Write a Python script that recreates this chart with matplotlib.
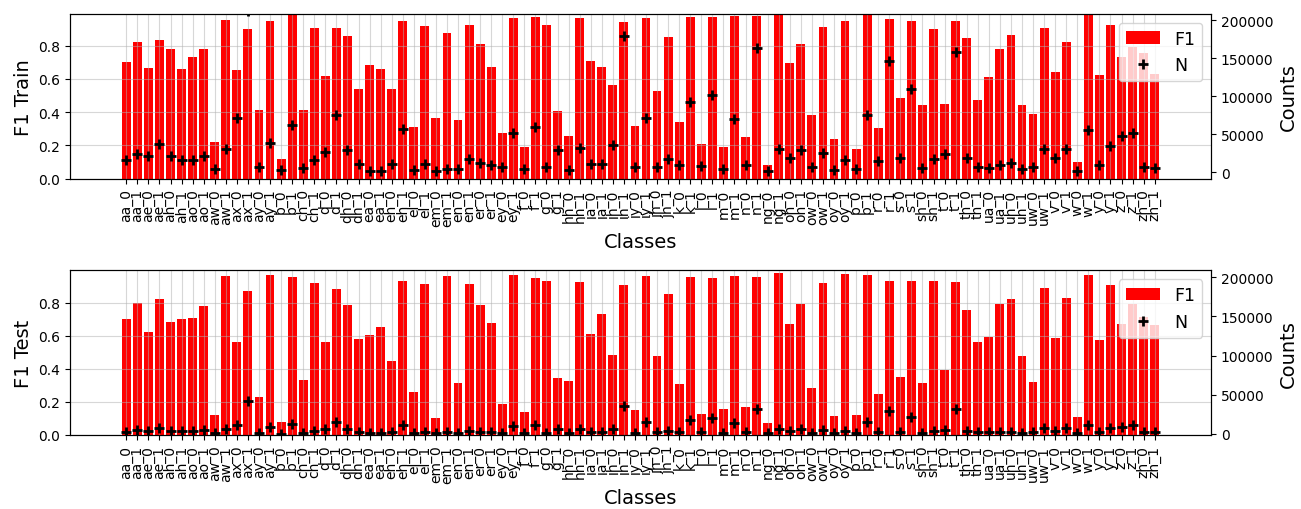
import numpy as np
import matplotlib.pyplot as plt

# phoneme classes, each split into _0 / _1
phones = ['aa', 'ae', 'ah', 'ao', 'aw', 'ax', 'ay', 'b', 'ch', 'd', 'dh', 'ea',
          'eh', 'el', 'em', 'en', 'er', 'ey', 'f', 'g', 'hh', 'ia', 'ih', 'iy',
          'jh', 'k', 'l', 'm', 'n', 'ng', 'oh', 'ow', 'oy', 'p', 'r', 's', 'sh',
          't', 'th', 'ua', 'uh', 'uw', 'v', 'w', 'y', 'z', 'zh']
classes = [p + s for p in phones for s in ('_0', '_1')]

f1_train = [0.704, 0.823, 0.666, 0.835, 0.780, 0.660, 0.732, 0.780, 0.219, 0.955,
            0.654, 0.901, 0.412, 0.949, 0.117, 1.000, 0.412, 0.907, 0.617, 0.907,
            0.859, 0.539, 0.684, 0.660, 0.539, 0.951, 0.312, 0.921, 0.366, 0.879,
            0.354, 0.925, 0.812, 0.674, 0.276, 0.967, 0.191, 0.973, 0.925, 0.406,
            0.257, 0.967, 0.708, 0.672, 0.563, 0.943, 0.316, 0.967, 0.527, 0.853,
            0.340, 0.973, 0.207, 0.973, 0.191, 0.979, 0.251, 0.979, 0.082, 1.000,
            0.698, 0.810, 0.382, 0.913, 0.237, 0.949, 0.177, 1.000, 0.304, 0.961,
            0.485, 0.949, 0.442, 0.901, 0.448, 0.949, 0.847, 0.475, 0.611, 0.780,
            0.865, 0.442, 0.388, 0.907, 0.642, 0.823, 0.099, 1.000, 0.623, 0.925,
            0.732, 0.792, 0.756, 0.629]
n_train = [15400, 24200, 20700, 36500, 21100, 15400, 15400, 21500, 3500, 29900,
           70800, 212000, 7000, 37800, 2200, 61500, 4800, 15800, 26400, 75200,
           29500, 11000, 1300, 1300, 11000, 56300, 2200, 10100, 1300, 4400,
           3500, 17600, 12300, 8800, 6600, 51900, 3500, 59800, 6600, 28600,
           2600, 31700, 10100, 10100, 35200, 178500, 7000, 70800, 7000, 16700,
           9200, 92300, 7900, 101500, 3500, 69500, 9700, 163100, 1300, 29900,
           18500, 28600, 6200, 24600, 2200, 15800, 3500, 75600, 14100, 146400,
           18500, 109000, 4800, 16700, 24200, 157400, 18500, 7000, 5700, 9200,
           11400, 4400, 7000, 29900, 18000, 29900, 1800, 55400, 9700, 34300,
           47900, 51000, 6600, 5700]

f1_test = [0.700, 0.796, 0.621, 0.820, 0.681, 0.700, 0.706, 0.778, 0.121, 0.959,
           0.561, 0.868, 0.229, 0.965, 0.078, 0.953, 0.332, 0.917, 0.561, 0.880,
           0.784, 0.579, 0.603, 0.651, 0.446, 0.929, 0.259, 0.911, 0.103, 0.959,
           0.314, 0.911, 0.784, 0.675, 0.187, 0.965, 0.139, 0.947, 0.929, 0.344,
           0.326, 0.923, 0.609, 0.730, 0.482, 0.905, 0.151, 0.959, 0.476, 0.850,
           0.308, 0.953, 0.127, 0.947, 0.157, 0.959, 0.169, 0.953, 0.072, 0.977,
           0.669, 0.790, 0.283, 0.917, 0.115, 0.971, 0.121, 0.965, 0.247, 0.929,
           0.350, 0.929, 0.314, 0.929, 0.392, 0.923, 0.754, 0.561, 0.591, 0.790,
           0.820, 0.476, 0.320, 0.886, 0.585, 0.826, 0.109, 0.965, 0.573, 0.905,
           0.669, 0.790, 0.712, 0.662]
n_test = [3000, 5100, 4200, 7600, 4200, 4200, 4200, 5500, 1300, 6800,
          11900, 42400, 1300, 9300, 400, 12700, 1300, 4200, 6400, 15700,
          6400, 3000, 800, 800, 3000, 11400, 1300, 3000, 800, 2100,
          1300, 4200, 3000, 2100, 800, 10600, 800, 11900, 1300, 6400,
          800, 6800, 2100, 3000, 6400, 35200, 1300, 14800, 2100, 4200,
          2100, 18200, 2100, 20300, 800, 14000, 2100, 31800, 800, 6800,
          3400, 6800, 1300, 5500, 800, 4200, 800, 14800, 3000, 28800,
          3000, 21600, 800, 4200, 5100, 31800, 4200, 3000, 2100, 2100,
          3000, 1300, 2100, 7200, 4200, 7600, 800, 11900, 2100, 7600,
          9300, 11000, 2100, 2100]

x = np.arange(len(classes))

fig, axes = plt.subplots(2, 1, figsize=(13.01, 5.1), dpi=100)
fig.subplots_adjust(left=0.0538, right=0.9308, top=0.9706, bottom=0.1451,
                    hspace=0.557)

panels = [(axes[0], f1_train, n_train, 'F1 Train', (0, 0.991), (-8700, 208000)),
          (axes[1], f1_test, n_test, 'F1 Test', (0, 0.995), (-1300, 208500))]

for ax, f1, n, name, ylim1, ylim2 in panels:
    bars = ax.bar(x, f1, color='red', label='F1')
    ax.grid(alpha=0.5)
    ax.set_xticks(x)
    ax.set_xticklabels(classes, rotation=90)
    ax.set_ylim(*ylim1)
    ax.set_ylabel(name, fontsize=14)
    ax.set_xlabel('Classes', fontsize=14)

    ax2 = ax.twinx()
    pts, = ax2.plot(x, n, '+', color='black', ms=7, mew=2, label='N')
    ax2.set_ylim(*ylim2)
    ax2.set_ylabel('Counts', fontsize=14)
    ax2.legend([bars, pts], ['F1', 'N'], loc='upper right', fontsize=12.5)

plt.savefig('out.png')
